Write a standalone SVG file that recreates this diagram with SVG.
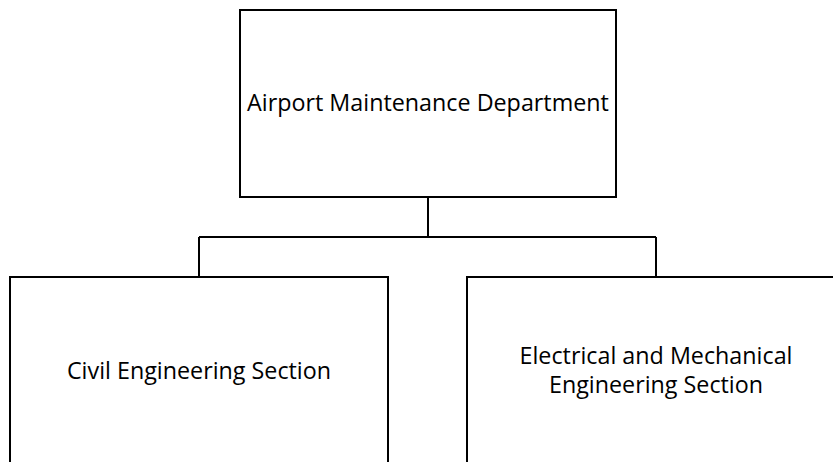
<svg xmlns="http://www.w3.org/2000/svg" width="833" height="462" viewBox="0 0 833 462">
<style>
.box{fill:#ffffff;stroke:#000000;stroke-width:2}
.conn{fill:none;stroke:#000000;stroke-width:2}
.lbl{font-family:"Open Sans","Noto Sans","Liberation Sans",sans-serif;font-size:23.3px;fill:#000000;text-anchor:middle}
</style>
<rect x="0" y="0" width="833" height="462" fill="#ffffff"/>
<g id="connectors">
<path class="conn" d="M428,197 V237 M199,237 H656 M199,237 V277 M656,237 V277"/>
</g>
<g id="node-airport">
<rect class="box" x="240" y="10" width="376" height="187"/>
<text class="lbl" x="428" y="111">Airport Maintenance Department</text>
</g>
<g id="node-civil">
<rect class="box" x="10" y="277" width="378" height="200"/>
<text class="lbl" x="199" y="379">Civil Engineering Section</text>
</g>
<g id="node-em">
<rect class="box" x="467" y="277" width="378" height="200"/>
<text class="lbl" x="656" y="364">Electrical and Mechanical</text>
<text class="lbl" x="656" y="393">Engineering Section</text>
</g>
</svg>
